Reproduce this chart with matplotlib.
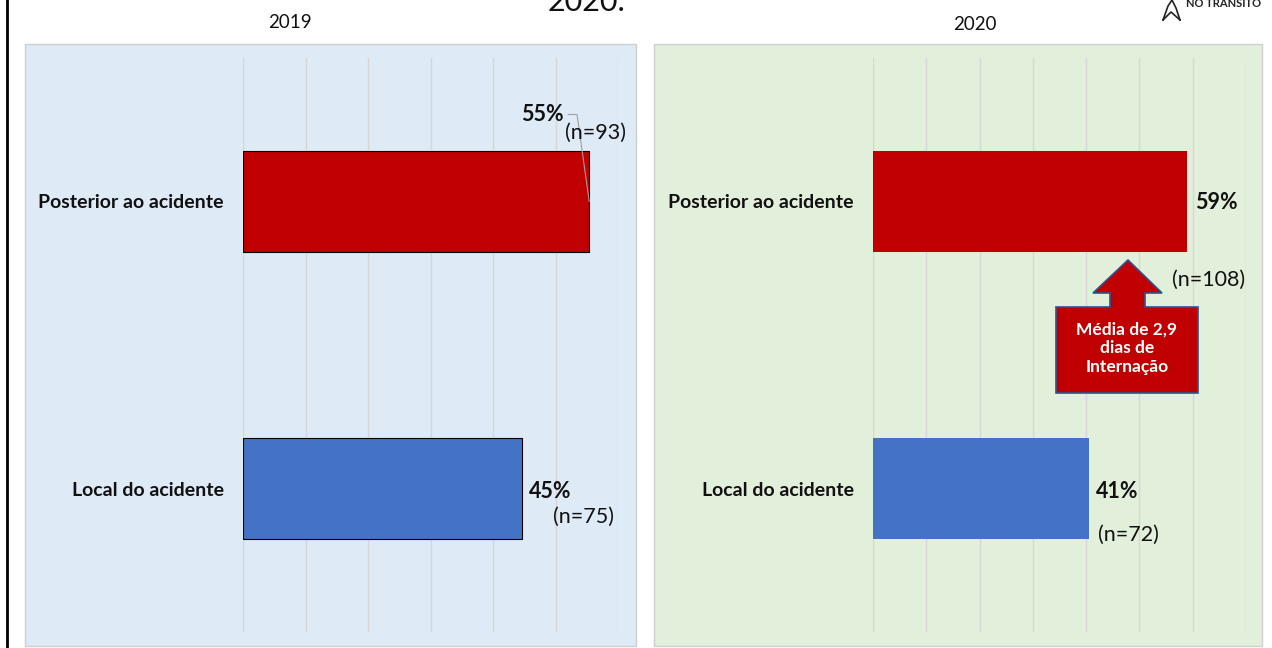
import matplotlib
matplotlib.use("Agg")
from matplotlib import pyplot as plt
from matplotlib.patches import Rectangle, Polygon

plt.rcParams['font.family'] = ['Lato', 'DejaVu Sans']

# dados
categorias = ["Local do acidente", "Posterior ao acidente"]
valores_2019 = [44.6, 55.4]
n_2019 = [75, 93]
valores_2020 = [40.6, 59.0]
n_2020 = [72, 108]
cores = ["#4472C4", "#C00000"]
ano_esq = "2019"
ano_dir = "2020"
texto_seta = "Média de 2,9\ndias de\nInternação"

W, H = 1272, 648
fig = plt.figure(figsize=(W / 100, H / 100), dpi=100)


def px(x, y):
    # converte pixel (origem no topo) para coordenadas da figura
    return x / W, 1 - y / H


def caixa(x0, y0, x1, y1):
    return [x0 / W, 1 - y1 / H, (x1 - x0) / W, (y1 - y0) / H]


# linha preta na esquerda
fig.add_artist(plt.Line2D([7 / W, 7 / W], [0, 1], color="black", lw=2))

# fundos dos painéis
fig.patches.append(Rectangle(px(25, 646), (636 - 25) / W, (646 - 44) / H, transform=fig.transFigure,
                             facecolor="#DEEAF6", edgecolor="#D0D0D0", lw=1, zorder=-2))
fig.patches.append(Rectangle(px(654, 646), (1262 - 654) / W, (646 - 44) / H, transform=fig.transFigure,
                             facecolor="#E2EFDA", edgecolor="#D0D0D0", lw=1, zorder=-2))

ax1 = fig.add_axes(caixa(243, 58, 618, 632))
ax2 = fig.add_axes(caixa(873, 58, 1246, 632))

for ax, vals, xmax, borda in [(ax1, valores_2019, 60, "black"), (ax2, valores_2020, 70, "none")]:
    ax.patch.set_alpha(0)
    ax.barh(range(len(categorias)), vals, height=0.355, color=cores, edgecolor=borda, linewidth=0.8, zorder=3)
    ax.set_xlim(0, xmax)
    ax.set_ylim(-0.5, 1.5)
    ax.set_xticks(range(0, xmax + 1, 10))
    ax.set_xticklabels([])
    ax.set_yticks(range(len(categorias)))
    ax.set_yticklabels(categorias, fontsize=14, fontweight="bold", color="#111111")
    ax.tick_params(length=0, pad=14)
    ax.grid(axis="x", color="#D6D6D6", lw=1, zorder=0)
    ax.set_axisbelow(True)
    for s in ax.spines.values():
        s.set_visible(False)

#==============================================#
# rótulos de valores (offsets em pixels a partir do fim da barra)
rot_2019 = [((7, -3), (31, -28)), ((-68, 87), (-24, 69))]
rot_2020 = [((7, -3), (9, -46)), ((8, -1), (-15, -78))]

for ax, vals, ns, offs in [(ax1, valores_2019, n_2019, rot_2019), (ax2, valores_2020, n_2020, rot_2020)]:
    for i, v in enumerate(vals):
        op, on = offs[i]
        if ax is ax1 and i == 1:
            ax.annotate(f"{v:.0f}%", xy=(v, i), xytext=op, textcoords="offset pixels",
                        ha="left", va="center", fontsize=15.5, fontweight="bold", color="#111111",
                        arrowprops=dict(arrowstyle="-", color="#A0A0A0", lw=0.8, shrinkA=0, shrinkB=0,
                                        relpos=(1.1, 0.5),
                                        connectionstyle="angle,angleA=0,angleB=98,rad=0"))
        else:
            ax.annotate(f"{v:.0f}%", xy=(v, i), xytext=op, textcoords="offset pixels",
                        ha="left", va="center", fontsize=15.5, fontweight="bold", color="#111111")
        ax.annotate(f"(n={ns[i]})", xy=(v, i), xytext=on, textcoords="offset pixels",
                    ha="left", va="center", fontsize=15.5, color="#111111")

# títulos
fig.text(*px(290, 22), ano_esq, ha="center", va="center", fontsize=13.5, color="#111111")
fig.text(*px(975, 25), ano_dir, ha="center", va="center", fontsize=13.5, color="#111111")
fig.text(*px(587, 11), "2020.", ha="center", va="baseline", fontsize=22, color="#111111")

# logo (parcial)
fig.text(*px(1224, 7), "NO TRANSITO", ha="center", va="baseline", fontsize=8, fontweight="bold",
         color="#222222")
fig.add_artist(plt.Line2D([1163 / W, 1168 / W, 1172 / W, 1176 / W, 1180 / W],
                          [1 - 20 / H, 1 - 6 / H, 1 - 0 / H, 1 - 8 / H, 1 - 20 / H], color="#222222", lw=1.2))
fig.add_artist(plt.Line2D([1163 / W, 1171 / W, 1180 / W],
                          [1 - 20 / H, 1 - 12 / H, 1 - 20 / H], color="#222222", lw=1.2))

# seta de destaque
pontos = [(1128, 260), (1162, 293), (1145, 293), (1145, 307), (1198, 307), (1198, 393),
          (1056, 393), (1056, 307), (1110, 307), (1110, 293), (1093, 293)]
fig.patches.append(Polygon([px(x, y) for x, y in pontos], closed=True, transform=fig.transFigure,
                           facecolor="#C00000", edgecolor="#2F528F", lw=1.2, zorder=5))
fig.text(*px(1127, 348), texto_seta, ha="center", va="center", fontsize=12.5, fontweight="bold",
         color="white", linespacing=1.2, zorder=6)

fig.savefig("out.png", dpi=100)
